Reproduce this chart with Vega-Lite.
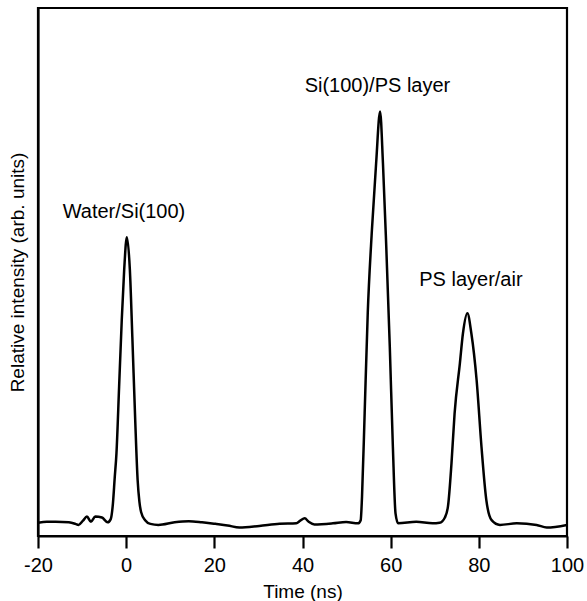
{
  "$schema": "https://vega.github.io/schema/vega-lite/v6.json",
  "width": 529,
  "height": 528,
  "autosize": {"type": "none"},
  "padding": {"left": 38, "top": 8, "right": 20, "bottom": 65},
  "background": "white",
  "config": {
    "font": "Liberation Sans",
    "view": {"stroke": "black", "strokeWidth": 2.2},
    "axis": {"grid": false, "domainColor": "black", "domainWidth": 2.2, "tickColor": "black", "tickWidth": 2.2, "labelColor": "black", "titleColor": "black", "labelFont": "Liberation Sans", "titleFont": "Liberation Sans", "labelFontSize": 20, "titleFontSize": 19, "titleFontWeight": "normal"}
  },
  "layer": [
    {
      "data": {"values": [
        {"t": -20, "v": 2.5}, {"t": -18, "v": 2.7}, {"t": -16, "v": 2.7}, {"t": -13, "v": 2.6},
        {"t": -11.5, "v": 2.3}, {"t": -10.8, "v": 2.1}, {"t": -9.8, "v": 2.9}, {"t": -8.9, "v": 3.7},
        {"t": -8.0, "v": 2.7}, {"t": -7.0, "v": 3.7}, {"t": -5.5, "v": 3.5}, {"t": -4.2, "v": 2.6},
        {"t": -3.5, "v": 3.2}, {"t": -3.0, "v": 6.2}, {"t": -2.6, "v": 11}, {"t": -2.2, "v": 15.7},
        {"t": -1.6, "v": 28.3}, {"t": -1.0, "v": 40.9}, {"t": -0.45, "v": 50.4}, {"t": 0.15, "v": 56.6},
        {"t": 0.84, "v": 50.4}, {"t": 1.4, "v": 37.7}, {"t": 2.05, "v": 22}, {"t": 2.6, "v": 10.6},
        {"t": 3.0, "v": 6.5}, {"t": 3.4, "v": 4.5}, {"t": 4.3, "v": 3.0}, {"t": 5.5, "v": 2.3},
        {"t": 7.3, "v": 2.1}, {"t": 11, "v": 2.6}, {"t": 14.2, "v": 2.8}, {"t": 17.2, "v": 2.6},
        {"t": 20.2, "v": 2.3}, {"t": 23, "v": 2.0}, {"t": 25.7, "v": 1.6}, {"t": 30.2, "v": 1.9},
        {"t": 34.8, "v": 2.3}, {"t": 38.6, "v": 2.4}, {"t": 39.5, "v": 2.9}, {"t": 40.5, "v": 3.35},
        {"t": 41.4, "v": 2.7}, {"t": 42.7, "v": 2.2}, {"t": 46.9, "v": 2.4}, {"t": 49.9, "v": 2.65},
        {"t": 52.6, "v": 2.4}, {"t": 53.2, "v": 3.0}, {"t": 53.5, "v": 7.4}, {"t": 54.1, "v": 23.3},
        {"t": 54.8, "v": 42.2}, {"t": 55.75, "v": 58}, {"t": 56.7, "v": 70.6}, {"t": 57.6, "v": 80.4},
        {"t": 58.25, "v": 70.6}, {"t": 59.0, "v": 54.8}, {"t": 59.8, "v": 35.9}, {"t": 60.5, "v": 16.9},
        {"t": 61.1, "v": 4.3}, {"t": 61.7, "v": 2.4}, {"t": 65.8, "v": 2.7}, {"t": 69.5, "v": 2.4},
        {"t": 71.1, "v": 2.5}, {"t": 72.3, "v": 3.5}, {"t": 73.0, "v": 5.6}, {"t": 73.8, "v": 13.8},
        {"t": 74.5, "v": 23.2}, {"t": 75.7, "v": 32.7}, {"t": 76.4, "v": 38.4}, {"t": 77.4, "v": 42.2},
        {"t": 78.3, "v": 38.4}, {"t": 79.5, "v": 29.5}, {"t": 80.6, "v": 16.9}, {"t": 81.7, "v": 6.8},
        {"t": 82.9, "v": 3.0}, {"t": 84.8, "v": 2.1}, {"t": 88.6, "v": 2.4}, {"t": 93.1, "v": 2.1},
        {"t": 95.4, "v": 1.6}, {"t": 100, "v": 2.1}
      ]},
      "mark": {"type": "line", "color": "black", "strokeWidth": 2.5, "interpolate": "monotone", "clip": true},
      "encoding": {
        "x": {"field": "t", "type": "quantitative", "scale": {"domain": [-20, 100], "nice": false, "zero": false},
              "axis": {"title": "Time (ns)", "values": [-20, 0, 20, 40, 60, 80, 100], "tickSize": 12, "labelPadding": 7, "titlePadding": 7, "labelFlush": false,
                       "labelExpr": "datum.value < 0 ? '-' + abs(datum.value) : '' + datum.value"}},
        "y": {"field": "v", "type": "quantitative", "scale": {"domain": [0, 100], "nice": false},
              "axis": {"title": "Relative intensity (arb. units)", "ticks": false, "labels": false, "titlePadding": 11}}
      }
    },
    {
      "data": {"values": [
        {"t": -0.5, "v": 61.4, "label": "Water/Si(100)"},
        {"t": 57, "v": 85.2, "label": "Si(100)/PS layer"},
        {"t": 78.2, "v": 48.5, "label": "PS layer/air"}
      ]},
      "mark": {"type": "text", "fontSize": 20, "color": "black", "baseline": "middle", "align": "center"},
      "encoding": {
        "x": {"field": "t", "type": "quantitative"},
        "y": {"field": "v", "type": "quantitative"},
        "text": {"field": "label"}
      }
    }
  ]
}
